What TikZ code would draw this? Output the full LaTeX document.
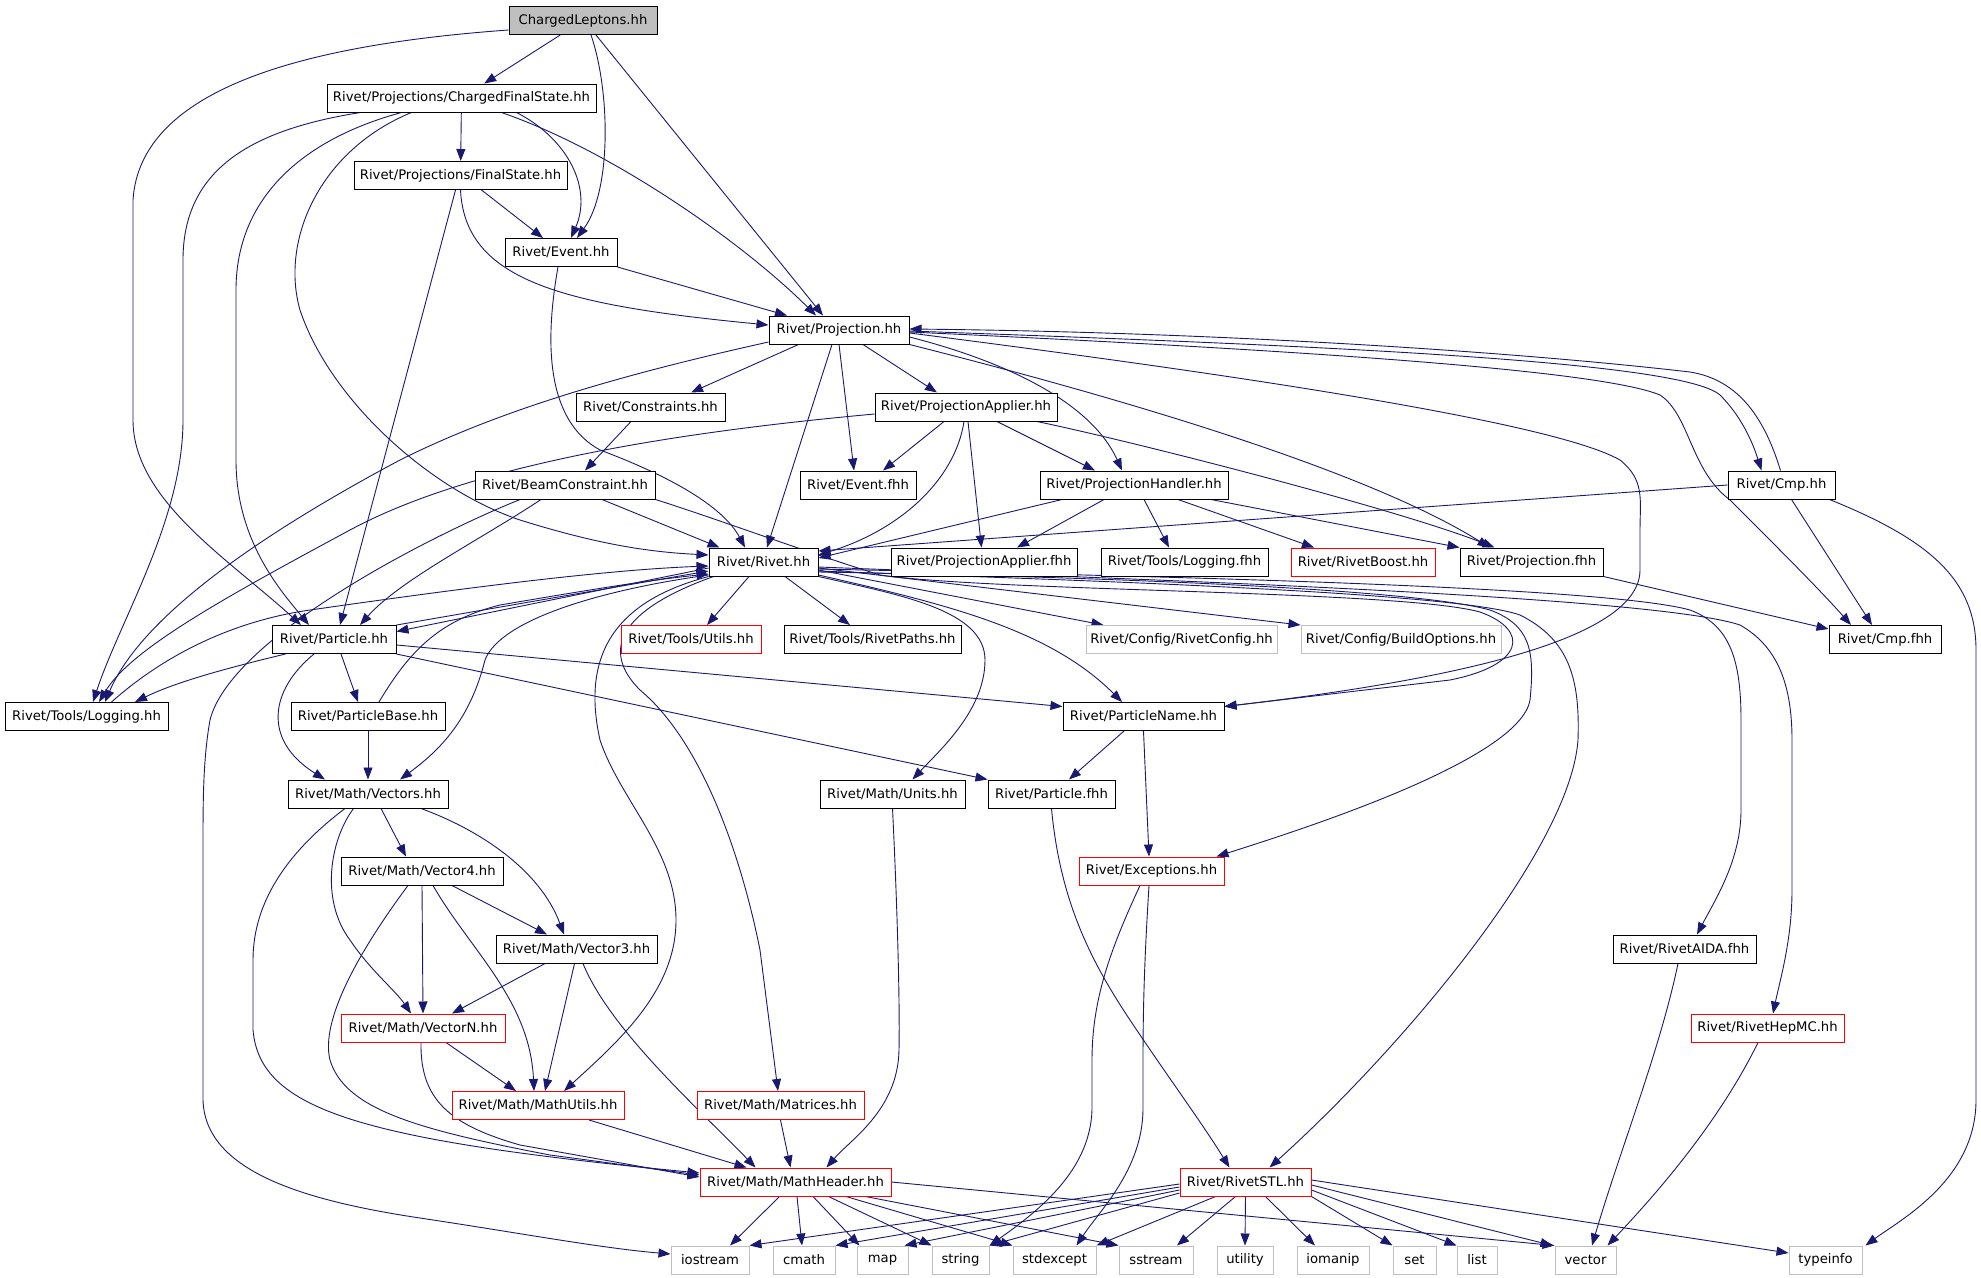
\documentclass[tikz,border=0pt]{standalone}
\usepackage{fontspec}
\newfontfamily\dvs{DejaVu Sans}
\usetikzlibrary{arrows.meta}
\definecolor{edgeblue}{HTML}{191970}
\definecolor{grey75}{HTML}{BFBFBF}
\pgfdeclarelayer{bg}
\pgfsetlayers{bg,main}
\newcommand{\nodefont}{\dvs\fontsize{13.2pt}{15pt}\selectfont}
\newcommand{\lbl}[1]{\makebox[0pt]{#1}}
\tikzset{
  nd/.style={draw=black, line width=1pt, fill=white, minimum height=28pt, inner sep=0pt, font=\nodefont},
  rd/.style={nd, draw=red},
  gy/.style={nd, draw=grey75},
  dep/.style={draw=edgeblue, line width=0.9pt, -{Triangle[length=12pt,width=9pt]}},
}
\begin{document}
\begin{tikzpicture}[x=1pt,y=-1pt]
\useasboundingbox (0,0) rectangle (1981,1277);
% ---------------- nodes ----------------
\node[nd, fill=grey75, minimum width=148pt] (CL) at (583,20.5) {\lbl{ChargedLeptons.hh}};
\node[nd, minimum width=269pt] (CFS) at (461.5,98) {\lbl{Rivet/Projections/ChargedFinalState.hh}};
\node[nd, minimum width=213pt] (FS) at (460.5,175.5) {\lbl{Rivet/Projections/FinalState.hh}};
\node[nd, minimum width=112pt] (Event) at (561,252.5) {\lbl{Rivet/Event.hh}};
\node[nd, minimum width=140pt] (Projection) at (839,330) {\lbl{Rivet/Projection.hh}};
\node[nd, minimum width=149pt] (Constraints) at (650.5,407) {\lbl{Rivet/Constraints.hh}};
\node[nd, minimum width=182pt] (ProjApplier) at (966,407) {\lbl{Rivet/ProjectionApplier.hh}};
\node[nd, minimum width=180pt] (BeamC) at (565,485) {\lbl{Rivet/BeamConstraint.hh}};
\node[nd, minimum width=116pt] (EventF) at (858,485) {\lbl{Rivet/Event.fhh}};
\node[nd, minimum width=188pt] (ProjHandler) at (1134,485) {\lbl{Rivet/ProjectionHandler.hh}};
\node[nd, minimum width=107pt] (Cmp) at (1781.5,485) {\lbl{Rivet/Cmp.hh}};
\node[nd, minimum width=109pt] (Rivet) at (763.5,562) {\lbl{Rivet/Rivet.hh}};
\node[nd, minimum width=186pt] (ProjApplierF) at (984,562) {\lbl{Rivet/ProjectionApplier.fhh}};
\node[nd, minimum width=167pt] (LoggingF) at (1184.5,562) {\lbl{Rivet/Tools/Logging.fhh}};
\node[rd, minimum width=144pt] (RivetBoost) at (1363,562) {\lbl{Rivet/RivetBoost.hh}};
\node[nd, minimum width=143pt] (ProjectionF) at (1531.5,562) {\lbl{Rivet/Projection.fhh}};
\node[nd, minimum width=124pt] (Particle) at (334,639.5) {\lbl{Rivet/Particle.hh}};
\node[rd, minimum width=140pt] (Utils) at (691,639.5) {\lbl{Rivet/Tools/Utils.hh}};
\node[nd, minimum width=177pt] (RivetPaths) at (872.5,639.5) {\lbl{Rivet/Tools/RivetPaths.hh}};
\node[gy, minimum width=191pt] (RivetConfig) at (1181.5,639.5) {\lbl{Rivet/Config/RivetConfig.hh}};
\node[gy, minimum width=200pt] (BuildOptions) at (1401,639.5) {\lbl{Rivet/Config/BuildOptions.hh}};
\node[nd, minimum width=112pt] (CmpF) at (1885,639.5) {\lbl{Rivet/Cmp.fhh}};
\node[nd, minimum width=163pt] (Logging) at (86.5,716.5) {\lbl{Rivet/Tools/Logging.hh}};
\node[nd, minimum width=154pt] (ParticleBase) at (368,716.5) {\lbl{Rivet/ParticleBase.hh}};
\node[nd, minimum width=161pt] (ParticleName) at (1143.5,716.5) {\lbl{Rivet/ParticleName.hh}};
\node[nd, minimum width=160pt] (Vectors) at (368,794) {\lbl{Rivet/Math/Vectors.hh}};
\node[nd, minimum width=145pt] (Units) at (892.5,794) {\lbl{Rivet/Math/Units.hh}};
\node[nd, minimum width=127pt] (ParticleF) at (1051.5,794) {\lbl{Rivet/Particle.fhh}};
\node[nd, minimum width=162pt] (Vector4) at (422,871) {\lbl{Rivet/Math/Vector4.hh}};
\node[rd, minimum width=145pt] (Exceptions) at (1151.5,871) {\lbl{Rivet/Exceptions.hh}};
\node[nd, minimum width=161pt] (Vector3) at (576.5,949) {\lbl{Rivet/Math/Vector3.hh}};
\node[nd, minimum width=143pt] (RivetAIDA) at (1684.5,949) {\lbl{Rivet/RivetAIDA.fhh}};
\node[rd, minimum width=164pt] (VectorN) at (423,1028) {\lbl{Rivet/Math/VectorN.hh}};
\node[rd, minimum width=153pt] (RivetHepMC) at (1767.5,1028) {\lbl{Rivet/RivetHepMC.hh}};
\node[rd, minimum width=172pt] (MathUtils) at (538,1105.5) {\lbl{Rivet/Math/MathUtils.hh}};
\node[rd, minimum width=167pt] (Matrices) at (780.5,1105.5) {\lbl{Rivet/Math/Matrices.hh}};
\node[rd, minimum width=191pt] (MathHeader) at (795.5,1182) {\lbl{Rivet/Math/MathHeader.hh}};
\node[rd, minimum width=131pt] (RivetSTL) at (1245.5,1182) {\lbl{Rivet/RivetSTL.hh}};
\node[gy, minimum width=78pt] (iostream) at (710,1260) {\lbl{iostream}};
\node[gy, minimum width=62pt] (cmath) at (804,1260) {\lbl{cmath}};
\node[gy, minimum width=51pt] (mapH) at (882.5,1260) {\lbl{map}};
\node[gy, minimum width=57pt] (stringH) at (960.5,1260) {\lbl{string}};
\node[gy, minimum width=83pt] (stdexcept) at (1054.5,1260) {\lbl{stdexcept}};
\node[gy, minimum width=74pt] (sstream) at (1156,1260) {\lbl{sstream}};
\node[gy, minimum width=56pt] (utility) at (1245,1260) {\lbl{utility}};
\node[gy, minimum width=72pt] (iomanip) at (1333,1260) {\lbl{iomanip}};
\node[gy, minimum width=43pt] (setH) at (1414.5,1260) {\lbl{set}};
\node[gy, minimum width=40pt] (listH) at (1477,1260) {\lbl{list}};
\node[gy, minimum width=61pt] (vectorH) at (1585.5,1260) {\lbl{vector}};
\node[gy, minimum width=73pt] (typeinfo) at (1825.5,1260) {\lbl{typeinfo}};
% ---------------- edges ----------------
\begin{pgfonlayer}{bg}
\fill[white] (0,0) rectangle (1981,1277);
% ChargedLeptons
\draw[dep] (CL) -- (CFS);
\draw[dep] ([yshift=-9.5]CL.west) .. controls (300,45) and (140,90) .. (133,200) -- (133,420) .. controls (133,500) and (230,560) .. ([xshift=-33]Particle.north);
\draw[dep] ([xshift=8]CL.south) .. controls (610,90) and (612,190) .. ([xshift=16]Event.north);
\draw[dep] ([xshift=13]CL.south) -- ([xshift=-16]Projection.north);
% ChargedFinalState
\draw[dep] (CFS) -- (FS);
\draw[dep] ([xshift=55]CFS.south) .. controls (570,140) and (592,190) .. ([xshift=10]Event.north);
\draw[dep] ([xshift=40]CFS.south) .. controls (610,150) and (740,240) .. ([xshift=-23]Projection.north);
\draw[dep] ([xshift=-101]CFS.south) .. controls (250,130) and (183,170) .. (183,260) -- (183,420) .. controls (183,520) and (120,620) .. ([xshift=6.5]Logging.north);
\draw[dep] ([xshift=-60]CFS.south) .. controls (300,140) and (236,200) .. (236,290) -- (236,460) .. controls (236,540) and (280,590) .. ([xshift=-25]Particle.north);
\draw[dep] ([xshift=-50]CFS.south) .. controls (320,150) and (280,240) .. (300,310) .. controls (330,400) and (430,490) .. (520,520) .. controls (600,545) and (650,552) .. ([yshift=7]Rivet.west);
% FinalState
\draw[dep] ([xshift=21]FS.south) -- ([xshift=-18]Event.north);
\draw[dep] (FS.south) .. controls (465,280) and (560,305) .. ([yshift=5]Projection.west);
\draw[dep] ([xshift=-5]FS.south) -- ([xshift=6]Particle.north);
% Event
\draw[dep] (Event.south east) -- ([xshift=-52]Projection.north);
\draw[dep] ([xshift=-3]Event.south) .. controls (545,340) and (545,420) .. (600,450) .. controls (680,480) and (725,510) .. ([xshift=-18.5]Rivet.north);
% Projection
\draw[dep] ([yshift=-12]Projection.west) .. controls (620,375) and (500,410) .. (400,460) .. controls (250,540) and (140,620) .. ([xshift=18.5]Logging.north);
\draw[dep] ([xshift=-40.5]Projection.south) -- ([xshift=40.5]Constraints.north);
\draw[dep] ([xshift=-7]Projection.south) -- ([xshift=3.5]Rivet.north);
\draw[dep] (Projection.south) -- ([xshift=-4]EventF.north);
\draw[dep] ([xshift=24]Projection.south) -- ([xshift=-29]ProjApplier.north);
\draw[dep] ([yshift=-7]Projection.east) .. controls (1000,360) and (1090,400) .. ([xshift=-12]ProjHandler.north);
\draw[dep] (Projection.south east) .. controls (1050,380) and (1350,460) .. ([xshift=-42]ProjectionF.north);
\draw[dep] ([yshift=-3]Projection.east) .. controls (1200,370) and (1550,420) .. (1620,460) .. controls (1645,480) and (1640,500) .. (1640,530) -- (1640,570) .. controls (1640,640) and (1450,680) .. ([yshift=10]ParticleName.east);
\draw[dep] ([yshift=-1]Projection.east) .. controls (1300,345) and (1680,360) .. (1720,395) .. controls (1745,420) and (1755,450) .. ([xshift=-20]Cmp.north);
\draw[dep] ([yshift=-2]Projection.east) .. controls (1300,350) and (1600,370) .. (1660,395) .. controls (1690,415) and (1690,470) .. (1730,500) .. controls (1780,550) and (1820,590) .. ([xshift=-34]CmpF.north);
% Cmp
\draw[dep] ([xshift=-1]Cmp.north) .. controls (1765,420) and (1740,380) .. (1690,372) .. controls (1500,350) and (1200,332) .. ([yshift=1]Projection.east);
\draw[dep] ([xshift=10]Cmp.south) -- ([xshift=-13]CmpF.north);
\draw[dep] (Cmp.west) -- ([yshift=11]Rivet.east);
\draw[dep] ([xshift=48]Cmp.south) .. controls (1930,540) and (1976,580) .. (1976,650) -- (1976,1100) .. controls (1976,1180) and (1900,1220) .. ([xshift=40]typeinfo.north);
% ProjectionApplier
\draw[dep] ([yshift=-7]ProjApplier.west) .. controls (700,430) and (480,460) .. (350,530) .. controls (220,600) and (130,650) .. ([xshift=12.5]Logging.north);
\draw[dep] ([xshift=-22]ProjApplier.south) -- ([xshift=25]EventF.north);
\draw[dep] ([xshift=-2]ProjApplier.south) .. controls (955,480) and (900,530) .. ([yshift=7]Rivet.east);
\draw[dep] ([xshift=2]ProjApplier.south) -- ([xshift=-2.5]ProjApplierF.north);
\draw[dep] ([xshift=31]ProjApplier.south) -- ([xshift=-39]ProjHandler.north);
\draw[dep] ([xshift=71]ProjApplier.south) .. controls (1140,443) and (1400,510) .. ([xshift=-37]ProjectionF.north);
% ProjectionHandler
\draw[dep] ([xshift=-72]ProjHandler.south) -- ([yshift=4]Rivet.east);
\draw[dep] ([xshift=-30]ProjHandler.south) -- ([xshift=33]ProjApplierF.north);
\draw[dep] ([xshift=10]ProjHandler.south) -- ([xshift=-15.5]LoggingF.north);
\draw[dep] ([xshift=44]ProjHandler.south) -- ([xshift=-49]RivetBoost.north);
\draw[dep] ([xshift=77]ProjHandler.south) -- (ProjectionF.north west);
\draw[dep] (ProjectionF.south east) -- ([yshift=-4]CmpF.north west);
% Constraints / BeamConstraint
\draw[dep] ([xshift=-19.5]Constraints.south) -- ([xshift=20]BeamC.north);
\draw[dep] ([xshift=-45]BeamC.south) .. controls (420,540) and (230,640) .. (210,720) .. controls (203,760) and (203,800) .. (203,850) -- (203,1100) .. controls (205,1170) and (300,1200) .. (420,1218) .. controls (520,1233) and (600,1248) .. ([yshift=6]iostream.west);
\draw[dep] ([xshift=-24]BeamC.south) .. controls (480,540) and (400,580) .. ([xshift=26]Particle.north);
\draw[dep] ([xshift=37]BeamC.south) -- ([xshift=11]Rivet.north west);
\draw[dep] (BeamC.south east) .. controls (720,520) and (800,550) .. (880,575) .. controls (1000,592) and (1400,590) .. (1480,612) .. controls (1530,630) and (1525,665) .. (1450,680) -- ([yshift=10]ParticleName.east);
% Logging / Particle / ParticleBase
\draw[dep] ([xshift=25]Logging.north) .. controls (170,650) and (240,620) .. (310,610) .. controls (450,590) and (600,570) .. ([yshift=-4]Rivet.west);
\draw[dep] (Particle.north east) -- ([yshift=-9]Rivet.west);
\draw[dep] ([yshift=-6]Rivet.west) -- ([yshift=8]Particle.east);
\draw[dep] ([xshift=14]Particle.south west) .. controls (240,665) and (180,680) .. ([xshift=48.5]Logging.north);
\draw[dep] ([xshift=7]Particle.south) -- ([xshift=-10]ParticleBase.north);
\draw[dep] ([xshift=-20]Particle.south) .. controls (270,690) and (262,740) .. ([xshift=-43]Vectors.north);
\draw[dep] ([yshift=-5.5]Particle.east) -- ([yshift=10]ParticleName.west);
\draw[dep] (Particle.south east) -- (ParticleF.north west);
\draw[dep] ([xshift=11]ParticleBase.north) .. controls (410,650) and (440,620) .. (500,605) .. controls (600,588) and (650,580) .. ([yshift=-12]Rivet.west);
\draw[dep] (ParticleBase) -- (Vectors);
% Rivet.hh
\draw[dep] ([xshift=-14.5]Rivet.south) -- ([xshift=16]Utils.north);
\draw[dep] ([xshift=21.5]Rivet.south) -- ([xshift=-22.5]RivetPaths.north);
\draw[dep] ([yshift=-8]Rivet.east) -- ([xshift=18]RivetConfig.north west);
\draw[dep] ([yshift=-6]Rivet.east) -- (BuildOptions.north west);
\draw[dep] ([yshift=-13]Rivet.east) .. controls (950,605) and (1050,630) .. ([xshift=-21.5]ParticleName.north);
\draw[dep] (Rivet.south east) .. controls (900,595) and (985,610) .. (985,660) .. controls (985,710) and (940,750) .. ([xshift=20]Units.north);
\draw[dep] ([yshift=-13]Rivet.west) .. controls (600,590) and (500,620) .. (485,660) .. controls (470,720) and (440,750) .. ([xshift=32]Vectors.north);
\draw[dep] (Rivet.south west) .. controls (620,600) and (580,650) .. (600,740) .. controls (620,800) and (676,850) .. (676,920) .. controls (676,990) and (620,1040) .. ([xshift=26]MathUtils.north);
\draw[dep] ([xshift=5]Rivet.south west) .. controls (620,610) and (600,650) .. (640,690) .. controls (700,740) and (740,850) .. (760,950) -- ([xshift=-2.5]Matrices.north);
\draw[dep] ([yshift=-10]Rivet.east) .. controls (1000,575) and (1400,585) .. (1490,610) .. controls (1530,625) and (1535,650) .. (1530,700) .. controls (1520,760) and (1300,830) .. ([xshift=-8]Exceptions.north east);
\draw[dep] ([yshift=-9]Rivet.east) .. controls (1000,578) and (1450,590) .. (1520,615) .. controls (1570,640) and (1580,680) .. (1578,740) .. controls (1570,850) and (1400,1050) .. ([xshift=24]RivetSTL.north);
\draw[dep] ([yshift=-7]Rivet.east) .. controls (1100,575) and (1600,585) .. (1690,610) .. controls (1730,625) and (1741,660) .. (1741,720) -- (1741,810) .. controls (1741,860) and (1715,900) .. ([xshift=12.5]RivetAIDA.north);
\draw[dep] ([yshift=-5]Rivet.east) .. controls (1100,578) and (1650,595) .. (1740,625) .. controls (1775,645) and (1792,680) .. (1792,740) -- (1792,890) .. controls (1792,940) and (1780,980) .. ([xshift=5.5]RivetHepMC.north);
% ParticleName / Particle.fhh
\draw[dep] ([xshift=-19.5]ParticleName.south) -- ([xshift=17.5]ParticleF.north);
\draw[dep] (ParticleName.south) -- ([xshift=-2.5]Exceptions.north);
\draw[dep] (ParticleF.south) .. controls (1060,900) and (1090,960) .. (1130,1020) .. controls (1170,1080) and (1200,1120) .. ([xshift=-16]RivetSTL.north);
% Vectors family
\draw[dep] ([xshift=13]Vectors.south) -- ([xshift=-16]Vector4.north);
\draw[dep] ([xshift=53]Vectors.south) .. controls (480,830) and (540,870) .. ([xshift=-12.5]Vector3.north);
\draw[dep] ([xshift=-14.5]Vectors.south) .. controls (330,840) and (320,900) .. (350,940) .. controls (370,970) and (395,990) .. ([xshift=-12]VectorN.north);
\draw[dep] ([xshift=-23]Vectors.south) .. controls (290,850) and (253,900) .. (253,960) -- (253,1030) .. controls (260,1110) and (360,1140) .. ([yshift=9]MathHeader.west);
\draw[dep] ([xshift=30]Vector4.south) -- ([xshift=-29.5]Vector3.north);
\draw[dep] (Vector4.south) -- (VectorN.north);
\draw[dep] ([xshift=11]Vector4.south) .. controls (470,950) and (530,1000) .. ([xshift=-4]MathUtils.north);
\draw[dep] ([xshift=-14]Vector4.south) .. controls (360,950) and (320,1020) .. (330,1060) .. controls (345,1110) and (420,1130) .. (550,1155) -- ([yshift=7]MathHeader.west);
\draw[dep] ([xshift=-31.5]Vector3.south) -- ([xshift=29]VectorN.north);
\draw[dep] ([xshift=-2]Vector3.south) -- ([xshift=7]MathUtils.north);
\draw[dep] ([xshift=6.5]Vector3.south) .. controls (610,1030) and (700,1110) .. ([xshift=-40]MathHeader.north);
\draw[dep] ([xshift=23]VectorN.south) -- ([xshift=-22]MathUtils.north);
\draw[dep] ([xshift=-2]VectorN.south) .. controls (420,1100) and (450,1125) .. (520,1145) -- ([yshift=5]MathHeader.west);
\draw[dep] ([xshift=51]MathUtils.south) -- ([xshift=-49]MathHeader.north);
\draw[dep] (Matrices.south) -- ([xshift=-5]MathHeader.north);
\draw[dep] (Units.south) .. controls (897,900) and (900,1000) .. (899,1050) .. controls (898,1110) and (850,1140) .. ([xshift=31]MathHeader.north);
% Exceptions
\draw[dep] ([xshift=-11.5]Exceptions.south) .. controls (1110,950) and (1092,1000) .. (1092,1060) -- (1092,1110) .. controls (1090,1170) and (1040,1210) .. (stringH.north east);
\draw[dep] ([xshift=-2.5]Exceptions.south) .. controls (1145,950) and (1143,1000) .. (1143,1060) -- (1143,1110) .. controls (1142,1170) and (1100,1210) .. ([xshift=22]stdexcept.north);
% MathHeader
\draw[dep] ([xshift=-16]MathHeader.south) -- ([xshift=20]iostream.north);
\draw[dep] ([xshift=1.5]MathHeader.south) -- ([xshift=-2]cmath.north);
\draw[dep] ([xshift=17.5]MathHeader.south) -- ([xshift=3]mapH.north west);
\draw[dep] ([xshift=33]MathHeader.south) -- (stringH.north west);
\draw[dep] ([xshift=50.5]MathHeader.south) -- (stdexcept.north west);
\draw[dep] ([xshift=70]MathHeader.south) -- (sstream.north west);
\draw[dep] (MathHeader.east) -- (vectorH.north west);
% RivetSTL
\draw[dep] ([yshift=-2]RivetSTL.west) -- (iostream.north east);
\draw[dep] ([yshift=-5]RivetSTL.west) -- (cmath.north east);
\draw[dep] ([yshift=-8]RivetSTL.west) -- ([xshift=-4]mapH.north east);
\draw[dep] ([yshift=-11]RivetSTL.west) -- (stringH.north east);
\draw[dep] ([xshift=-30]RivetSTL.south) -- (stdexcept.north east);
\draw[dep] ([xshift=-10]RivetSTL.south) -- ([xshift=21]sstream.north);
\draw[dep] (RivetSTL.south) -- (utility.north);
\draw[dep] ([xshift=20]RivetSTL.south) -- ([xshift=-18]iomanip.north);
\draw[dep] (RivetSTL.south east) -- (setH.north west);
\draw[dep] ([yshift=-8]RivetSTL.east) -- (listH.north west);
\draw[dep] ([yshift=-3]RivetSTL.east) -- ([xshift=-2]vectorH.north west);
\draw[dep] ([yshift=2]RivetSTL.east) -- ([yshift=7]typeinfo.west);
% AIDA / HepMC
\draw[dep] ([xshift=-6.5]RivetAIDA.south) .. controls (1660,1050) and (1620,1150) .. ([xshift=6.5]vectorH.north);
\draw[dep] ([xshift=-9.5]RivetHepMC.south) .. controls (1720,1120) and (1660,1190) .. ([xshift=22]vectorH.north);
\end{pgfonlayer}
\end{tikzpicture}
\end{document}
